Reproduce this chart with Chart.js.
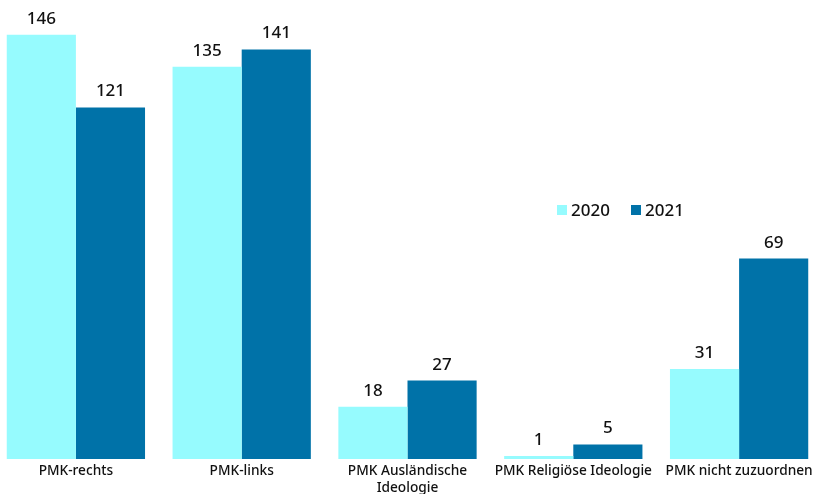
<!DOCTYPE html>
<html><head><meta charset="utf-8">
<script src="https://cdn.jsdelivr.net/npm/chart.js@4"></script>
<style>
html,body{margin:0;padding:0;background:#fff;overflow:hidden;width:813px;height:494px;}
#wrap{position:absolute;left:-7px;top:0;width:829px;height:494px;}
</style></head>
<body>
<div id="wrap"><canvas id="c"></canvas></div>
<script>
const categories = ["PMK-rechts", "PMK-links", ["PMK Ausländische", "Ideologie"], "PMK Religiöse Ideologie", "PMK nicht zuzuordnen"];
const seriesLabels = ["2020", "2021"];
const values2020 = [146, 135, 18, 1, 31];
const values2021 = [121, 141, 27, 5, 69];
const colors = ["#96fbfe", "#0072a8"];
const FONT = "'Noto Sans', Lato, sans-serif";

const valueLabels = {
  id: 'valueLabels',
  afterDatasetsDraw(chart) {
    const ctx = chart.ctx;
    ctx.save();
    ctx.font = "500 17px " + FONT;
    ctx.fillStyle = "#111";
    ctx.textAlign = "center";
    ctx.textBaseline = "alphabetic";
    chart.data.datasets.forEach((ds, i) => {
      chart.getDatasetMeta(i).data.forEach((bar, j) => {
        ctx.fillText(String(ds.data[j]), bar.x, bar.y - 11);
      });
    });
    ctx.restore();
  }
};

const customLegend = {
  id: 'customLegend',
  afterDraw(chart) {
    const ctx = chart.ctx;
    ctx.save();
    ctx.font = "500 17px " + FONT;
    ctx.textBaseline = "middle";
    ctx.textAlign = "left";
    const starts = [564, 638];
    chart.data.datasets.forEach((ds, i) => {
      const x = starts[i];
      ctx.fillStyle = ds.backgroundColor;
      ctx.fillRect(x, 205, 10, 10);
      ctx.fillStyle = "#111";
      ctx.fillText(ds.label, x + 14, 211);
    });
    ctx.restore();
  }
};

new Chart(document.getElementById('c'), {
  type: 'bar',
  data: {
    labels: categories,
    datasets: [
      { label: seriesLabels[0], data: values2020, backgroundColor: colors[0] },
      { label: seriesLabels[1], data: values2021, backgroundColor: colors[1] }
    ]
  },
  options: {
    responsive: true,
    maintainAspectRatio: false,
    animation: false,
    layout: { padding: 0 },
    plugins: { legend: { display: false }, tooltip: { enabled: false } },
    datasets: { bar: { categoryPercentage: 0.834, barPercentage: 1.0 } },
    scales: {
      y: { display: false, min: 0, max: 158 },
      x: {
        grid: { display: false, drawTicks: false },
        border: { display: false },
        ticks: { color: "#111", font: { family: FONT, size: 13.7, weight: 500 }, padding: 4, maxRotation: 0, autoSkip: false },
        afterFit(scale) { scale.height = 35; }
      }
    }
  },
  plugins: [valueLabels, customLegend]
});
</script>
</body></html>
